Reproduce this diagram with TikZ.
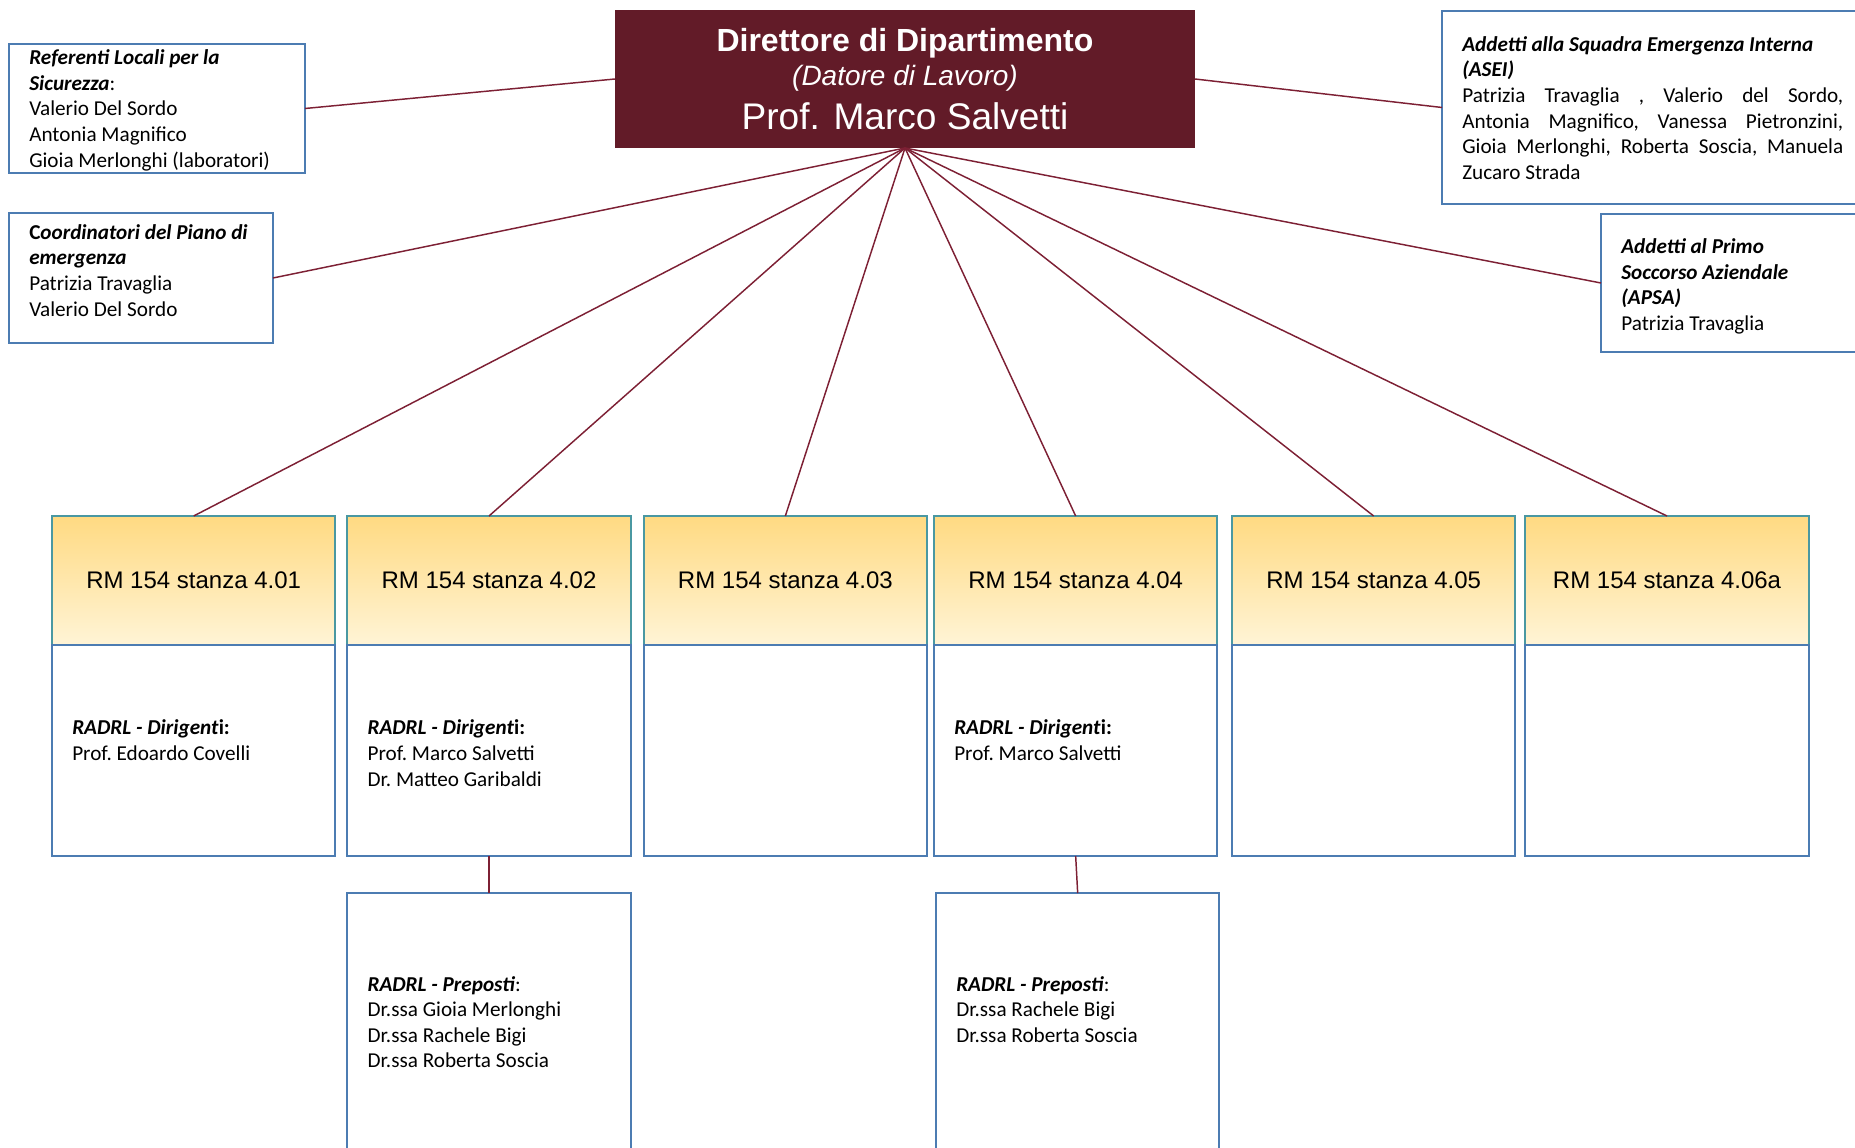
\documentclass[tikz,border=0pt]{standalone}
\usepackage{fontspec}
\setmainfont{Carlito}
\newfontfamily\arialfont{Liberation Sans}
\usepackage{tikz}
\usetikzlibrary{positioning}
\definecolor{DirRed}{RGB}{98,27,40}
\definecolor{LinkRed}{RGB}{125,32,52}
\definecolor{BoxBlue}{RGB}{76,124,178}
\definecolor{HeadTeal}{RGB}{74,152,162}
\definecolor{HeadTop}{RGB}{255,218,130}
\definecolor{HeadBot}{RGB}{255,244,214}
\def\RoomW{212.5pt}
\def\HeadH{96.75pt}
\def\BodyH{158.25pt}
\def\PrepH{217.5pt}
\def\Pad{15pt}
\def\BodyFont{\fontsize{15.9}{19.2}\selectfont\frenchspacing}
\newcommand{\jline}[1]{\makebox[285.75pt][s]{#1}}
\tikzset{
	link/.style={draw=LinkRed,line width=1.1pt},
	infobox/.style={draw=BoxBlue,line width=1.5pt,inner sep=0pt,outer sep=0pt,anchor=north west},
	roomhead/.style={draw=HeadTeal,line width=1.5pt,top color=HeadTop,bottom color=HeadBot,
		minimum width=\RoomW,minimum height=\HeadH,inner sep=0pt,outer sep=0pt,
		font=\arialfont\fontsize{18}{22}\selectfont},
	roombody/.style={draw=BoxBlue,line width=1.5pt,minimum width=\RoomW,minimum height=\BodyH,
		inner sep=0pt,outer sep=0pt},
	txt/.style={inner sep=0pt,align=left,font=\BodyFont,execute at begin node={\rule{0pt}{12.5pt}}},
}

\begin{document}
\begin{tikzpicture}[x=0.75pt,y=-0.75pt]
	\useasboundingbox (0,0) rectangle (1855,1148);
	% top row
	\node[fill=DirRed,text=white,anchor=north west,minimum width=435pt,minimum height=103.5pt,
		inner sep=0pt,outer sep=0pt,align=center,font=\arialfont\fontsize{24}{29.3}\selectfont] (dir) at (615,10)
		{{\bfseries Direttore di Dipartimento}\\[-3.5pt]{\itshape\fontsize{21}{29.3}\selectfont (Datore di Lavoro)}\\[3.5pt]{\fontsize{27.8}{29.3}\selectfont Prof. Marco Salvetti}};
	\node[infobox,minimum width=222pt,minimum height=96.75pt] (ref) at (9,44) {};
	\node[infobox,minimum width=198pt,minimum height=97.5pt] (coord) at (9,213) {};
	\node[infobox,minimum width=330pt,minimum height=144.75pt] (asei) at (1442,11) {};
	\node[infobox,minimum width=210pt,minimum height=103.5pt] (apsa) at (1601,214) {};
	% 
	\node[txt,below right=4.2pt and \Pad of ref.north west] (refT)
		{\textbf{\textit{Referenti Locali per la}}\\\textbf{\textit{Sicurezza}}:\\Valerio Del Sordo\\Antonia Magnifico\\Gioia Merlonghi (laboratori)};
	\node[txt,below right=8.4pt and \Pad of coord.north west] (coordT)
		{\textbf{C\textit{oordinatori del Piano di}}\\\textbf{\textit{emergenza}}\\Patrizia Travaglia\\Valerio Del Sordo};
	\node[txt,below right=18.8pt and \Pad of asei.north west] (aseiT)
		{\textbf{\textit{Addetti alla Squadra Emergenza Interna}}\\\textbf{\textit{(ASEI)}}\\
		\jline{Patrizia Travaglia , Valerio del Sordo,}\\\jline{Antonia Magnifico, Vanessa Pietronzini,}\\
		\jline{Gioia Merlonghi, Roberta Soscia, Manuela}\\Zucaro Strada};
	\node[txt,below right=18.3pt and \Pad of apsa.north west] (apsaT)
		{\textbf{\textit{Addetti al Primo}}\\\textbf{\textit{Soccorso Aziendale}}\\\textbf{\textit{(APSA)}}\\Patrizia Travaglia};
	% rooms
	\node[roomhead,anchor=north west] (h1) at (52,516) {RM 154 stanza 4.01};
	\node[roomhead,right=9pt of h1] (h2) {RM 154 stanza 4.02};
	\node[roomhead,right=9.75pt of h2] (h3) {RM 154 stanza 4.03};
	\node[roomhead,right=5.25pt of h3] (h4) {RM 154 stanza 4.04};
	\node[roomhead,right=11pt of h4] (h5) {RM 154 stanza 4.05};
	\node[roomhead,right=7.5pt of h5] (h6) {RM 154 stanza 4.06a};
	\foreach \i in {1,...,6}
		\node[roombody,below=0pt of h\i] (b\i) {};
	% 
	\node[txt,below right=56pt and \Pad of b1.north west] (b1T)
		{\textbf{\textit{RADRL - Dirigent}i:}\\Prof. Edoardo Covelli};
	\node[txt,below right=56pt and \Pad of b2.north west] (b2T)
		{\textbf{\textit{RADRL - Dirigent}i:}\\Prof. Marco Salvetti\\Dr. Matteo Garibaldi};
	\node[txt,below right=56pt and \Pad of b4.north west] (b4T)
		{\textbf{\textit{RADRL - Dirigent}i:}\\Prof. Marco Salvetti};
	% preposti
	\node[infobox,minimum width=\RoomW,minimum height=\PrepH,below=27.75pt of b2] (p2) {};
	\node[infobox,minimum width=\RoomW,minimum height=\PrepH,below=27.75pt of b4,xshift=1.5pt] (p4) {};
	\node[txt,below right=62.2pt and \Pad of p2.north west] (p2T)
		{\textbf{\textit{RADRL - Preposti}}:\\Dr.ssa Gioia Merlonghi\\Dr.ssa Rachele Bigi\\Dr.ssa Roberta Soscia};
	\node[txt,below right=62.2pt and \Pad of p4.north west] (p4T)
		{\textbf{\textit{RADRL - Preposti}}:\\Dr.ssa Rachele Bigi\\Dr.ssa Roberta Soscia};
	% links
	\draw[link] (dir.west) -- (ref.east);
	\draw[link] (dir.east) -- (asei.west);
	\draw[link] (dir.south) -- (coord.east);
	\draw[link] (dir.south) -- (apsa.west);
	\foreach \i in {1,...,6}
		\draw[link] (dir.south) -- (h\i.north);
	\draw[link] (b2.south) -- (p2.north);
	\draw[link] (b4.south) -- (p4.north);
\end{tikzpicture}
\end{document}
